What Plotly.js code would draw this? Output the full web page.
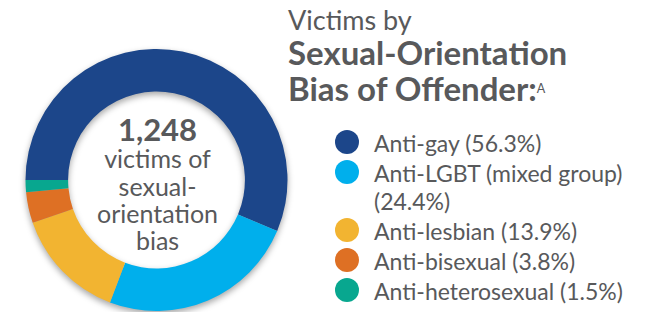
<!DOCTYPE html>
<html>
<head>
<meta charset="utf-8">
<script src="https://cdn.plot.ly/plotly-3.0.1.min.js"></script>
<style>
  html, body { margin: 0; padding: 0; background: #ffffff; overflow: hidden; }
  #chart { width: 654px; height: 312px; }
  .pielayer { filter: drop-shadow(0px 3px 3px rgba(0,0,0,0.35)); }
</style>
</head>
<body>
<div id="chart"></div>
<script>
// ---- data ----
const categories = ['Anti-gay', 'Anti-LGBT (mixed group)', 'Anti-lesbian', 'Anti-bisexual', 'Anti-heterosexual'];
const percents   = [56.3, 24.4, 13.9, 3.8, 1.5];
const colors     = ['#1C468A', '#00AFEC', '#F2B431', '#DE7024', '#08A78F'];
const totalVictims = '1,248';
const centerLines  = ['victims of', 'sexual-', 'orientation', 'bias'];
const titleLines   = ['Victims by', 'Sexual-Orientation', 'Bias of Offender:'];
const titleNote    = 'A';

// ---- layout helpers ----
const W = 654, H = 312;
const FONT = 'Lato, "Open Sans", sans-serif';
const TXT = '#58595B';
const px2x = p => p / W;
const px2y = p => 1 - p / H;
const sz = (s, t) => '<span style="font-size:' + s + 'px">' + t + '</span>';

const pie = {
  type: 'pie',
  values: percents,
  labels: categories,
  marker: { colors: colors, line: { width: 0 } },
  hole: 0.675,
  sort: false,
  direction: 'clockwise',
  rotation: 270,
  textinfo: 'none',
  hoverinfo: 'label+percent',
  showlegend: false,
  domain: { x: [px2x(25), px2x(288)], y: [px2y(311), px2y(49)] }
};

const annotations = [];
const shapes = [];
function addText(txt, xpx, ypx, size, xanchor, yanchor) {
  annotations.push({
    xref: 'paper', yref: 'paper',
    x: px2x(xpx), y: px2y(ypx),
    xanchor: xanchor, yanchor: yanchor,
    showarrow: false, align: xanchor === 'center' ? 'center' : 'left',
    text: txt,
    font: { family: FONT, size: size, color: TXT }
  });
}

// title: base size sets line spacing, spans set glyph size
addText(
  sz(27, titleLines[0]) + '<br>' +
  sz(33, '<b>' + titleLines[1] + '</b>') + '<br>' +
  sz(33, '<b>' + titleLines[2] + '</b>') + sz(18, '<sup>' + titleNote + '</sup>'),
  286, 1, 27.3, 'left', 'top');

// center text
addText(
  sz(31, '<b>' + totalVictims + '</b>') + '<br>' +
  centerLines.map(t => sz(25, t)).join('<br>'),
  157, 182, 21, 'center', 'middle');

// legend built from the arrays
let rowY = 142;
categories.forEach((c, i) => {
  const long = c.length > 18;
  const lines = long ? [c, '(' + percents[i] + '%)'] : [c + ' (' + percents[i] + '%)'];
  shapes.push({
    type: 'circle', xref: 'paper', yref: 'paper',
    x0: px2x(347 - 12), x1: px2x(347 + 12),
    y0: px2y(rowY + 12), y1: px2y(rowY - 12),
    fillcolor: colors[i], line: { width: 0 }
  });
  addText(lines.map(t => sz(23, t)).join('<br>'), 372, rowY - 15, 21.5, 'left', 'top');
  rowY += 30 * lines.length - (lines.length - 1) * 2;
});

const layout = {
  width: W, height: H,
  margin: { l: 0, r: 0, t: 0, b: 0 },
  paper_bgcolor: '#ffffff',
  plot_bgcolor: '#ffffff',
  showlegend: false,
  annotations: annotations,
  shapes: shapes
};

Plotly.newPlot('chart', [pie], layout, { displayModeBar: false, staticPlot: true });
</script>
</body>
</html>
